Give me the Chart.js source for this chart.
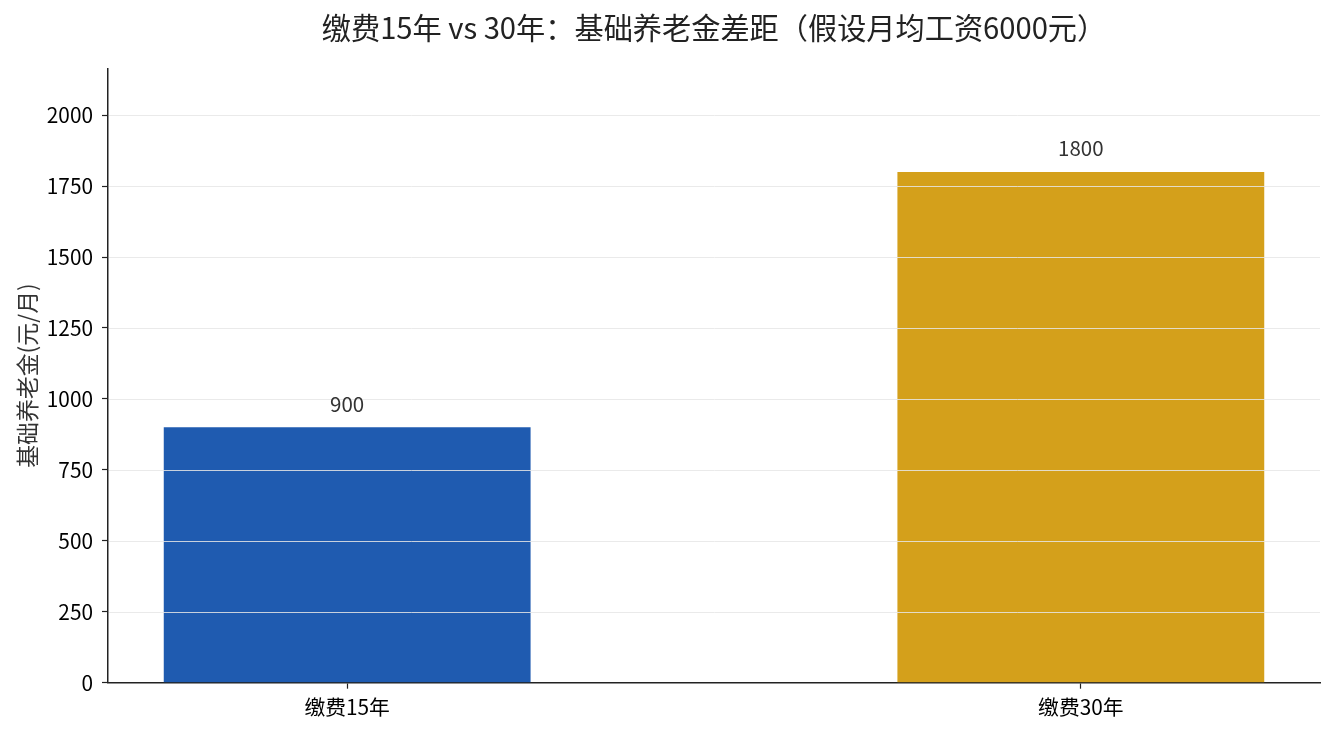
<!DOCTYPE html>
<html lang="zh-CN">
<head>
<meta charset="utf-8">
<title>缴费15年 vs 30年</title>
<script src="https://cdn.jsdelivr.net/npm/chart.js@4.4.1/dist/chart.umd.min.js"></script>
<style>
    html, body { margin: 0; padding: 0; background: #fff; }
    #wrap { width: 1335px; height: 735px; position: relative; }
</style>
</head>
<body>
<div id="wrap"><canvas id="pensionChart"></canvas></div>
<script>
// ===== DATA =====
const categories = ['缴费15年', '缴费30年'];
const pensionValues = [900, 1800];
const barColors = ['#1f5bb0', '#d4a01b'];
const yTicks = [0, 250, 500, 750, 1000, 1250, 1500, 1750, 2000];
const yMax = 2165;

const FONT = '"Noto Sans CJK SC", "Noto Sans", sans-serif';
const GRID_COLOR = 'rgba(230,230,230,0.85)';

// horizontal grid drawn on top of the bars
const gridOnTop = {
    id: 'gridOnTop',
    afterDatasetsDraw(chart) {
        const { ctx, chartArea, scales } = chart;
        ctx.save();
        ctx.strokeStyle = GRID_COLOR;
        ctx.lineWidth = 1;
        yTicks.forEach(v => {
            if (v === 0) return;
            const y = Math.round(scales.y.getPixelForValue(v)) + 0.5;
            ctx.beginPath();
            ctx.moveTo(chartArea.left + 1, y);
            ctx.lineTo(chartArea.right, y);
            ctx.stroke();
        });
        ctx.restore();
    }
};

// value labels above each bar
const valueLabels = {
    id: 'valueLabels',
    afterDatasetsDraw(chart) {
        const ctx = chart.ctx;
        const meta = chart.getDatasetMeta(0);
        ctx.save();
        ctx.font = '20.5px ' + FONT;
        ctx.fillStyle = '#333';
        ctx.textAlign = 'center';
        ctx.textBaseline = 'alphabetic';
        meta.data.forEach((bar, i) => {
            ctx.fillText(String(pensionValues[i]), bar.x, bar.y - 15.5);
        });
        ctx.restore();
    }
};

const ctx = document.getElementById('pensionChart').getContext('2d');

new Chart(ctx, {
    type: 'bar',
    data: {
        datasets: [{
            data: pensionValues.map((v, i) => ({ x: i, y: v })),
            backgroundColor: barColors,
            borderWidth: 0,
            categoryPercentage: 1,
            barPercentage: 0.5,
        }]
    },
    options: {
        responsive: true,
        maintainAspectRatio: false,
        animation: false,
        layout: { padding: { left: 0, right: 15, top: 0, bottom: 0 } },
        plugins: {
            legend: { display: false },
            tooltip: { enabled: false },
            title: {
                display: true,
                fullSize: false,
                text: '缴费15年 vs 30年：基础养老金差距（假设月均工资6000元）',
                color: '#222',
                font: { family: FONT, size: 29.2, weight: 'normal', lineHeight: 1.2 },
                padding: { top: 10.5, bottom: 22.8 }
            }
        },
        scales: {
            x: {
                type: 'linear',
                offset: false,
                min: -0.326,
                max: 1.326,
                afterBuildTicks: scale => {
                    scale.ticks = categories.map((c, i) => ({ value: i }));
                },
                afterFit: scale => { scale.height = 52.3; },
                ticks: {
                    color: '#000',
                    padding: 6,
                    font: { family: FONT, size: 20.8 },
                    callback: v => categories[v]
                },
                grid: {
                    offset: false,
                    drawOnChartArea: false,
                    tickLength: 6,
                    tickColor: '#222',
                    tickWidth: 1.2
                },
                border: { color: '#222', width: 1.5 }
            },
            y: {
                min: 0,
                max: yMax,
                afterBuildTicks: scale => {
                    scale.ticks = yTicks.map(v => ({ value: v }));
                },
                afterFit: scale => { scale.width = 108; },
                ticks: {
                    color: '#000',
                    padding: 9,
                    font: { family: FONT, size: 20.8 },
                    callback: v => String(v)
                },
                grid: {
                    drawOnChartArea: false,
                    tickLength: 6,
                    tickColor: '#222',
                    tickWidth: 1.2
                },
                border: { color: '#222', width: 1.5 },
                title: {
                    display: true,
                    text: '基础养老金(元/月)',
                    color: '#333',
                    font: { family: FONT, size: 22.9 },
                    padding: { top: 13.3, bottom: 4 }
                }
            }
        }
    },
    plugins: [gridOnTop, valueLabels]
});
</script>
</body>
</html>
